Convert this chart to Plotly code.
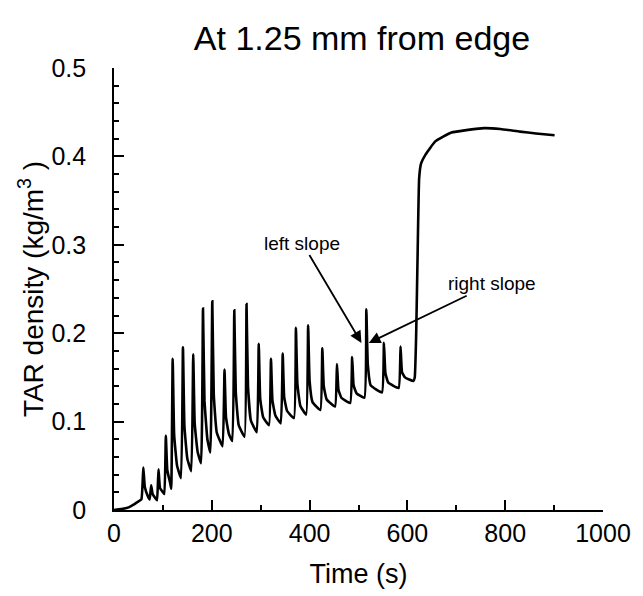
import plotly.graph_objects as go

# Pre-spike warm-up of the TAR density (time in s, density in kg/m^3)
warmup_t = [0, 15, 30, 40, 48]
warmup_v = [0.0, 0.001, 0.003, 0.006, 0.009]

# Oscillation cycles: trough before each spike, spike peak, shoulder (+3 s), tail (+9 s)
trough_t = [56, 73, 88, 103, 117, 137, 158, 178, 197, 222, 242, 267, 292, 317,
            341, 368, 393, 422, 452, 483, 512, 548, 582]
trough_v = [0.012, 0.012, 0.011, 0.018, 0.024, 0.036, 0.044, 0.053, 0.065, 0.072,
            0.078, 0.083, 0.088, 0.096, 0.098, 0.104, 0.108, 0.113, 0.117, 0.121,
            0.127, 0.133, 0.138]
peak_t = [60, 76, 91, 106, 120, 141, 162, 182, 201, 226, 246, 271, 296, 321,
          345, 372, 397, 426, 456, 487, 516, 552, 586]
peak_v = [0.048, 0.028, 0.046, 0.084, 0.171, 0.184, 0.176, 0.228, 0.236, 0.159,
          0.226, 0.233, 0.188, 0.171, 0.177, 0.206, 0.209, 0.183, 0.165, 0.173,
          0.227, 0.189, 0.185]
shoulder_v = [0.026, 0.018, 0.025, 0.045, 0.085, 0.095, 0.098, 0.124, 0.131, 0.105,
              0.134, 0.140, 0.126, 0.124, 0.128, 0.143, 0.146, 0.140, 0.136, 0.141,
              0.165, 0.155, 0.156]
tail_v = [0.016, 0.013, 0.020, 0.030, 0.050, 0.058, 0.066, 0.080, 0.088, 0.086,
          0.096, 0.101, 0.105, 0.107, 0.112, 0.118, 0.122, 0.125, 0.127, 0.132,
          0.141, 0.144, 0.150]

# Final jump and plateau
final_t = [612, 615, 618, 621, 624, 628, 637, 657, 690, 724, 757, 790, 830, 863, 901]
final_v = [0.146, 0.150, 0.200, 0.293, 0.375, 0.392, 0.402, 0.417, 0.427, 0.430,
           0.432, 0.431, 0.428, 0.426, 0.424]

time = list(warmup_t)
dens = list(warmup_v)
for tt, tv, pt, pv, sv, lv in zip(trough_t, trough_v, peak_t, peak_v, shoulder_v, tail_v):
    time += [tt, pt, pt + 3, pt + 9]
    dens += [tv, pv, sv, lv]
time += final_t
dens += final_v

FONT = "Liberation Sans, Arial, sans-serif"
NB = "\u00a0"

fig = go.Figure()
fig.add_trace(go.Scatter(x=time, y=dens, mode="lines",
                         line=dict(color="black", width=2.6, shape="spline", smoothing=0.35),
                         showlegend=False))

# Slope labels, each with an arrow pointing at the spike flank
fig.add_annotation(x=506, y=0.189, ax=385, ay=0.302, xref="x", yref="y",
                   axref="x", ayref="y", text="left slope", showarrow=True,
                   arrowhead=2, arrowsize=1.3, arrowwidth=1.8, arrowcolor="black",
                   font=dict(family=FONT, size=19, color="black"))
fig.add_annotation(x=521, y=0.189, ax=772, ay=0.256, xref="x", yref="y",
                   axref="x", ayref="y", text="right slope", showarrow=True,
                   arrowhead=2, arrowsize=1.3, arrowwidth=1.8, arrowcolor="black",
                   font=dict(family=FONT, size=19, color="black"))

fig.update_layout(
    template="simple_white",
    width=643, height=596, autosize=False,
    margin=dict(l=114, r=28, t=68, b=83),
    paper_bgcolor="white", plot_bgcolor="white",
    font=dict(family=FONT, color="black"),
    title=dict(text="At 1.25 mm from edge", x=362 / 643, xanchor="center",
               y=1 - 38 / 596, yanchor="middle", font=dict(size=34)),
)
fig.update_xaxes(
    range=[0, 1000], tickmode="linear", tick0=0, dtick=200,
    ticks="inside", ticklen=10, tickwidth=2, tickcolor="black",
    minor=dict(dtick=100, ticks="inside", ticklen=5, tickwidth=1.5, tickcolor="black"),
    showline=True, linewidth=2, linecolor="black", showgrid=False, zeroline=False,
    tickfont=dict(size=25),
    title=dict(text="Time (s)", font=dict(size=27), standoff=18),
)
fig.update_yaxes(
    range=[0, 0.5], tickmode="linear", tick0=0, dtick=0.1, ticksuffix=NB * 3,
    ticks="inside", ticklen=10, tickwidth=2, tickcolor="black",
    minor=dict(dtick=0.02, ticks="inside", ticklen=5, tickwidth=1.5, tickcolor="black"),
    showline=True, linewidth=2, linecolor="black", showgrid=False, zeroline=False,
    tickfont=dict(size=25),
    title=dict(text="TAR density (kg/m<sup>3</sup> )", font=dict(size=28), standoff=0),
)

fig.write_html("out.html")
